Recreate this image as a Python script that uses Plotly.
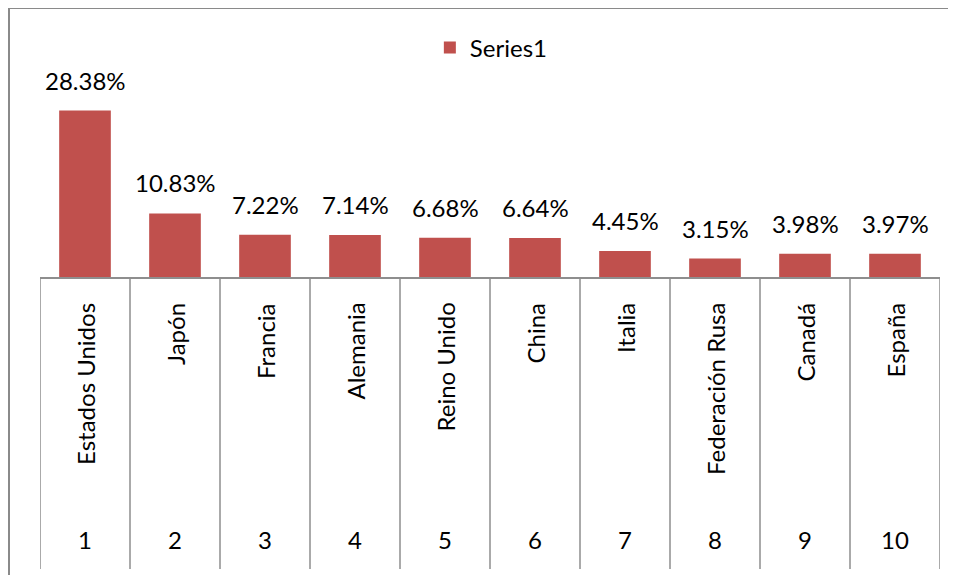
import plotly.graph_objects as go

countries = ["Estados Unidos", "Japón", "Francia", "Alemania", "Reino Unido",
             "China", "Italia", "Federación Rusa", "Canadá", "España"]
ranks = [1, 2, 3, 4, 5, 6, 7, 8, 9, 10]
values = [28.38, 10.83, 7.22, 7.14, 6.68, 6.64, 4.45, 3.15, 3.98, 3.97]
series_name = "Series1"

FONT = "Lato"
FS = 24
BAR = "#C0504D"
GRID = "#8E8E8E"

fig = go.Figure()
fig.add_trace(go.Bar(
    x=ranks, y=values, name=series_name,
    marker=dict(color=BAR, line=dict(width=0)),
    width=0.574,
    showlegend=True,
))

annotations = []
for r, v in zip(ranks, values):
    annotations.append(dict(x=r, y=v, xref="x", yref="y", text=f"{v:.2f}%",
                            showarrow=False, yanchor="bottom", yshift=14,
                            font=dict(family=FONT, size=FS, color="#000")))
for r, c in zip(ranks, countries):
    annotations.append(dict(x=r, y=0, xref="x", yref="paper", text=c,
                            textangle=-90, showarrow=False, yanchor="top",
                            yshift=-24,
                            font=dict(family=FONT, size=FS, color="#000")))
    annotations.append(dict(x=r, y=0, xref="x", yref="paper", text=str(r),
                            showarrow=False, yanchor="middle", yshift=-262,
                            font=dict(family=FONT, size=FS, color="#000")))

shapes = []
for i in range(len(ranks) + 1):
    shapes.append(dict(type="line", xref="x", yref="paper",
                       x0=0.5 + i, x1=0.5 + i,
                       ysizemode="pixel", yanchor=0, y0=0, y1=-292,
                       line=dict(color=GRID, width=1.5)))
# outer chart border
shapes.append(dict(type="rect", xref="paper", yref="paper",
                   x0=(9 - 40) / 900, x1=1.2, y0=-1.5, y1=(277 - 8) / 237,
                   line=dict(color="#8A8A8A", width=2), fillcolor="rgba(0,0,0,0)"))

fig.update_layout(
    width=948, height=567,
    margin=dict(l=32, r=16, t=32, b=298),
    paper_bgcolor="white", plot_bgcolor="white",
    font=dict(family=FONT, size=FS, color="#000"),
    xaxis=dict(range=[0.5, 10.5], showticklabels=False, showgrid=False,
               zeroline=False, showline=True, linecolor=GRID, linewidth=1.5,
               ticks=""),
    yaxis=dict(range=[0, 40.4], visible=False, showgrid=False, zeroline=False),
    legend=dict(x=0.5015, y=(277 - 48) / 237, xanchor="center", yanchor="middle",
                orientation="h", font=dict(family=FONT, size=FS),
                bgcolor="rgba(0,0,0,0)", itemwidth=30),
    annotations=annotations,
    shapes=shapes,
    showlegend=True,
)

fig.write_html("out.html")
